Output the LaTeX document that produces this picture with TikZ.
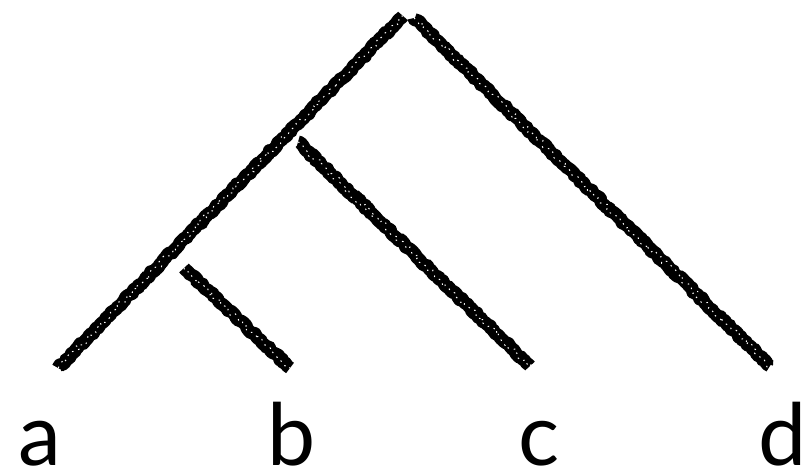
\documentclass[tikz,border=0pt]{standalone}
\usepackage{fontspec}
\setmainfont{Lato}
\usepackage{tikz}
\usetikzlibrary{decorations.pathmorphing}
\tikzset{
  chalk/.style={draw=black,line width=13pt,line join=round,decorate,
    decoration={random steps,segment length=2.5pt,amplitude=1.3pt}},
  grain/.style={draw=white,line width=1pt,line join=round,dash pattern=on 1.5pt off 5pt,decorate,
    decoration={random steps,segment length=3pt,amplitude=3pt}},
  taxon/.style={anchor=base,inner sep=0pt,text depth=0pt,font=\fontsize{86}{86}\selectfont}
}
\begin{document}
\begin{tikzpicture}[x=1pt,y=-1pt]
  \useasboundingbox (0,0) rectangle (811,474);

  % tree joints
  \coordinate (root l) at (403,16);
  \coordinate (root r) at (414,18);
  \coordinate (join c) at (298,142);
  \coordinate (join b) at (184,268);
  % tips
  \coordinate (tip a) at (58,368);
  \coordinate (tip b) at (290,368);
  \coordinate (tip c) at (530,366);
  \coordinate (tip d) at (770,366);

  \foreach \from/\to in {root l/tip a,root r/tip d,join c/tip c,join b/tip b} {
    \draw[chalk] (\from) -- (\to);
    \draw[grain] (\from) -- (\to);
  }

  \node[taxon] (a) at (40,465) {a};
  \node[taxon] (b) at (292,465) {b};
  \node[taxon] (c) at (539,465) {c};
  \node[taxon] (d) at (783,465) {d};
\end{tikzpicture}
\end{document}
